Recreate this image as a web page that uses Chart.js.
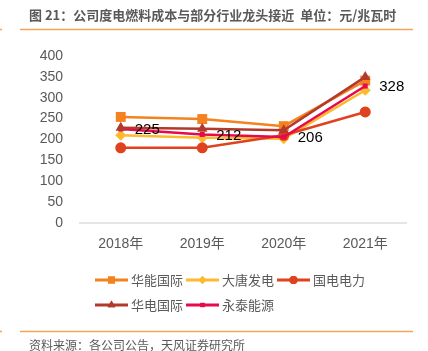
<!DOCTYPE html>
<html>
<head>
<meta charset="utf-8">
<script src="https://cdn.jsdelivr.net/npm/chart.js@4"></script>
<style>
  html, body { margin: 0; padding: 0; background: #fff; }
  #wrap { position: relative; width: 428px; height: 351px; }
</style>
</head>
<body>
<div id="wrap"><canvas id="mainChart" width="428" height="351"></canvas></div>
<script>
const categories = ['2018年', '2019年', '2020年', '2021年'];
const seriesNames = ['华能国际', '大唐发电', '国电电力', '华电国际', '永泰能源'];
const huaneng = [254, 249, 232, 341];
const datang = [210, 204, 202, 318];
const guodian = [180, 180, 210, 266];
const huadian = [228, 226, 222, 350];
const yongtai = [225, 212, 206, 328];

const titleText = '图 21：公司度电燃料成本与部分行业龙头接近  单位：元/兆瓦时';
const sourceText = '资料来源：各公司公告，天风证券研究所';

const fontFamily = "'Liberation Sans', 'Noto Sans CJK SC', sans-serif";
const textGrey = '#595959';
const accent = '#F5A55A';

const styles = [
  { color: '#F4821F', point: 'rect', radius: 7, legendR: 5, order: 2 },
  { color: '#FDBA2C', point: 'rectRot', radius: 5.5, legendR: 4, order: 4 },
  { color: '#E0411F', point: 'circle', radius: 5.5, legendR: 4, order: 3 },
  { color: '#B2392C', point: 'triangle', radius: 6, legendR: 4.5, order: 0 },
  { color: '#E8094D', point: 'rect', radius: 3.5, legendR: 3, order: 1 }
];
const values = [huaneng, datang, guodian, huadian, yongtai];

// page frame: title, orange rules, source
const framePlugin = {
  id: 'frame',
  beforeDraw(chart) {
    const ctx = chart.ctx;
    ctx.save();
    ctx.fillStyle = '#fff';
    ctx.fillRect(0, 0, chart.width, chart.height);
    ctx.strokeStyle = accent;
    ctx.lineWidth = 1.5;
    ctx.beginPath();
    ctx.moveTo(20, 29.5); ctx.lineTo(413, 29.5);
    ctx.moveTo(20, 331.5); ctx.lineTo(413, 331.5);
    ctx.moveTo(0, 29.5); ctx.lineTo(2, 29.5);
    ctx.moveTo(0, 331.5); ctx.lineTo(2, 331.5);
    ctx.stroke();
    ctx.fillStyle = textGrey;
    ctx.textBaseline = 'middle';
    ctx.textAlign = 'left';
    ctx.font = "bold 13px 'Noto Sans CJK SC', sans-serif";
    ctx.fillText(titleText, 29, 15);
    ctx.font = "12px 'Noto Sans CJK SC', sans-serif";
    ctx.fillText(sourceText, 29, 345);
    ctx.restore();
  }
};

// value labels for 永泰能源
const valueLabels = {
  id: 'valueLabels',
  afterDatasetsDraw(chart) {
    const ctx = chart.ctx;
    const meta = chart.getDatasetMeta(4);
    ctx.save();
    ctx.font = '15px ' + fontFamily;
    ctx.fillStyle = '#000';
    ctx.textAlign = 'left';
    ctx.textBaseline = 'middle';
    meta.data.forEach((pt, i) => {
      ctx.fillText(String(yongtai[i]), pt.x + 14, pt.y + 1);
    });
    ctx.restore();
  }
};

// legend drawn as line + marker
const lineLegend = {
  id: 'lineLegend',
  afterDraw(chart) {
    const ctx = chart.ctx;
    const rows = [[0, 1, 2], [3, 4]];
    const rowY = [280, 305];
    ctx.save();
    ctx.font = "13px 'Noto Sans CJK SC', sans-serif";
    ctx.textBaseline = 'middle';
    ctx.textAlign = 'left';
    rows.forEach((row, r) => {
      let x = 95;
      const y = rowY[r];
      row.forEach(idx => {
        const st = styles[idx];
        ctx.strokeStyle = st.color;
        ctx.lineWidth = 3;
        ctx.beginPath();
        ctx.moveTo(x, y); ctx.lineTo(x + 33, y);
        ctx.stroke();
        ctx.fillStyle = st.color;
        Chart.helpers.drawPoint(ctx, { pointStyle: st.point, radius: st.legendR, rotation: 0, borderWidth: 0 }, x + 16.5, y);
        ctx.fillStyle = st.color;
        ctx.fill();
        ctx.fillStyle = textGrey;
        ctx.fillText(seriesNames[idx], x + 36, y);
        x += 36 + ctx.measureText(seriesNames[idx]).width + 3;
      });
    });
    ctx.restore();
  }
};

new Chart(document.getElementById('mainChart').getContext('2d'), {
  type: 'line',
  data: {
    labels: categories,
    datasets: values.map((v, i) => ({
      label: seriesNames[i],
      data: v,
      borderColor: styles[i].color,
      backgroundColor: styles[i].color,
      pointBackgroundColor: styles[i].color,
      pointBorderColor: styles[i].color,
      pointStyle: styles[i].point,
      pointRadius: styles[i].radius,
      pointBorderWidth: 0,
      borderWidth: 2.5,
      tension: 0,
      order: styles[i].order
    }))
  },
  options: {
    responsive: false,
    animation: false,
    devicePixelRatio: 1,
    layout: { padding: { top: 56, left: 0, right: 22, bottom: 98 } },
    plugins: { legend: { display: false }, tooltip: { enabled: false } },
    scales: {
      x: {
        offset: true,
        grid: { display: false, drawTicks: false },
        border: { display: true, color: '#e5e5e5', width: 2 },
        ticks: { color: textGrey, font: { size: 14, family: fontFamily }, padding: 13 },
        afterFit(scale) { scale.height = 30; }
      },
      y: {
        min: 0,
        max: 400,
        grid: { display: false, drawTicks: false },
        border: { display: false },
        ticks: { stepSize: 50, color: textGrey, font: { size: 14, family: fontFamily }, padding: 17 },
        afterFit(scale) { scale.width = 80; }
      }
    }
  },
  plugins: [framePlugin, valueLabels, lineLegend]
});
</script>
</body>
</html>
